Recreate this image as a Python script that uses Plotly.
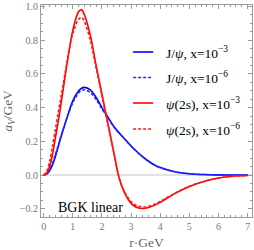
import plotly.graph_objects as go

r = [0.0, 0.1, 0.2, 0.3, 0.4, 0.5, 0.6, 0.8, 1.0, 1.2, 1.3, 1.4, 1.6, 1.8, 2.0, 2.2, 2.4, 2.6,
     2.8, 3.0, 3.2, 3.4, 3.6, 3.8, 4.0, 4.5, 5.0, 5.5, 6.0, 6.5, 7.0]

jpsi_x3 = [0, 0.005, 0.025, 0.06, 0.11, 0.17, 0.23, 0.34, 0.44, 0.50, 0.515, 0.52, 0.505, 0.46,
           0.40, 0.345, 0.29, 0.248, 0.21, 0.172, 0.138, 0.108, 0.082, 0.06, 0.044, 0.019,
           0.008, 0.003, 0.001, 0.0, 0.0]
jpsi_x6 = [0, 0.008, 0.033, 0.072, 0.122, 0.178, 0.235, 0.34, 0.43, 0.488, 0.502, 0.506, 0.49,
           0.448, 0.392, 0.34, 0.287, 0.246, 0.209, 0.172, 0.138, 0.108, 0.082, 0.06, 0.044,
           0.019, 0.008, 0.003, 0.001, 0.0, 0.0]
psi2s_x3 = [0, 0.01, 0.05, 0.12, 0.22, 0.32, 0.43, 0.66, 0.86, 0.97, 0.98, 0.95, 0.83, 0.65,
            0.48, 0.31, 0.14, -0.025, -0.115, -0.168, -0.193, -0.199, -0.193, -0.18, -0.162,
            -0.11, -0.068, -0.038, -0.018, -0.007, -0.003]
psi2s_x6 = [0, 0.02, 0.08, 0.17, 0.27, 0.37, 0.47, 0.67, 0.84, 0.925, 0.935, 0.91, 0.80, 0.635,
            0.47, 0.305, 0.138, -0.022, -0.108, -0.158, -0.183, -0.19, -0.186, -0.174, -0.157,
            -0.108, -0.067, -0.038, -0.018, -0.007, -0.003]

series = [
    ("J/<i>ψ</i>, x=10<sup>−3</sup>", jpsi_x3, "#0000ff", "solid"),
    ("J/<i>ψ</i>, x=10<sup>−6</sup>", jpsi_x6, "#2a2aff", "3px,2px"),
    ("<i>ψ</i>(2s), x=10<sup>−3</sup>", psi2s_x3, "#ff0000", "solid"),
    ("<i>ψ</i>(2s), x=10<sup>−6</sup>", psi2s_x6, "#ff1a1a", "3px,2px"),
]

W, H = 254, 250
L, R, T, B = 41, 2.3, 5, 33
pw, ph = W - L - R, H - T - B


def px(x):
    return (x - L) / pw


def py(y):
    return (H - B - y) / ph


fig = go.Figure()
shapes = []
annotations = []
rows = [52, 77.5, 103, 129]
for (name, vals, col, dash), yr in zip(series, rows):
    fig.add_trace(go.Scatter(x=r, y=vals, mode="lines", name=name,
                             line=dict(color=col, width=1.6, dash=dash, shape="spline",
                                       smoothing=0.9),
                             showlegend=False))
    shapes.append(dict(type="line", xref="paper", yref="paper", x0=px(133), x1=px(153),
                       y0=py(yr), y1=py(yr), line=dict(color=col, width=1.6, dash=dash)))
    annotations.append(dict(xref="paper", yref="paper", x=px(163.5), y=py(yr), text=name,
                            showarrow=False, xanchor="left", yanchor="middle",
                            font=dict(family="Liberation Serif", size=13.5, color="black")))

annotations.append(dict(xref="paper", yref="paper", x=px(56), y=py(207), text="BGK linear",
                        showarrow=False, xanchor="left", yanchor="middle",
                        font=dict(family="Liberation Serif", size=14, color="black")))

axcol = "#9a9a9a"
fig.update_layout(
    width=W, height=H,
    margin=dict(l=L, r=R, t=T, b=B, pad=0),
    paper_bgcolor="white", plot_bgcolor="white",
    shapes=shapes, annotations=annotations,
    font=dict(family="Liberation Serif", size=10, color="#777777"),
    xaxis=dict(range=[-0.093, 7.15], tickvals=[0, 1, 2, 3, 4, 5, 6, 7],
               showgrid=False, zeroline=False, showline=True, mirror="allticks",
               linecolor=axcol, linewidth=1, ticks="inside", ticklen=4, tickcolor=axcol,
               minor=dict(dtick=0.2, tick0=0, ticks="inside", ticklen=2, tickcolor=axcol),
               tickfont=dict(family="Liberation Serif", size=10, color="#777777"),
               title=dict(text="r·GeV", standoff=6,
                          font=dict(family="Liberation Serif", size=13.5, color="#666666"))),
    yaxis=dict(range=[-0.249, 1.009], tickvals=[-0.2, 0, 0.2, 0.4, 0.6, 0.8, 1.0],
               tickformat=".1f",
               showgrid=False, zeroline=True, zerolinecolor="#e2e2e2", zerolinewidth=1.5,
               showline=True, mirror="allticks", layer="below traces",
               linecolor=axcol, linewidth=1, ticks="inside", ticklen=4, tickcolor=axcol,
               minor=dict(dtick=0.05, tick0=0, ticks="inside", ticklen=2, tickcolor=axcol),
               tickfont=dict(family="Liberation Serif", size=10, color="#777777"),
               title=dict(text="<i>a</i><sub><i>V</i></sub>/GeV", standoff=4,
                          font=dict(family="Liberation Serif", size=13.5, color="#666666"))),
)
fig.update_xaxes(layer="below traces")

fig.write_html("out.html", config={"displayModeBar": False},
               post_script="document.body.style.margin='0';document.body.style.overflow='hidden';")
